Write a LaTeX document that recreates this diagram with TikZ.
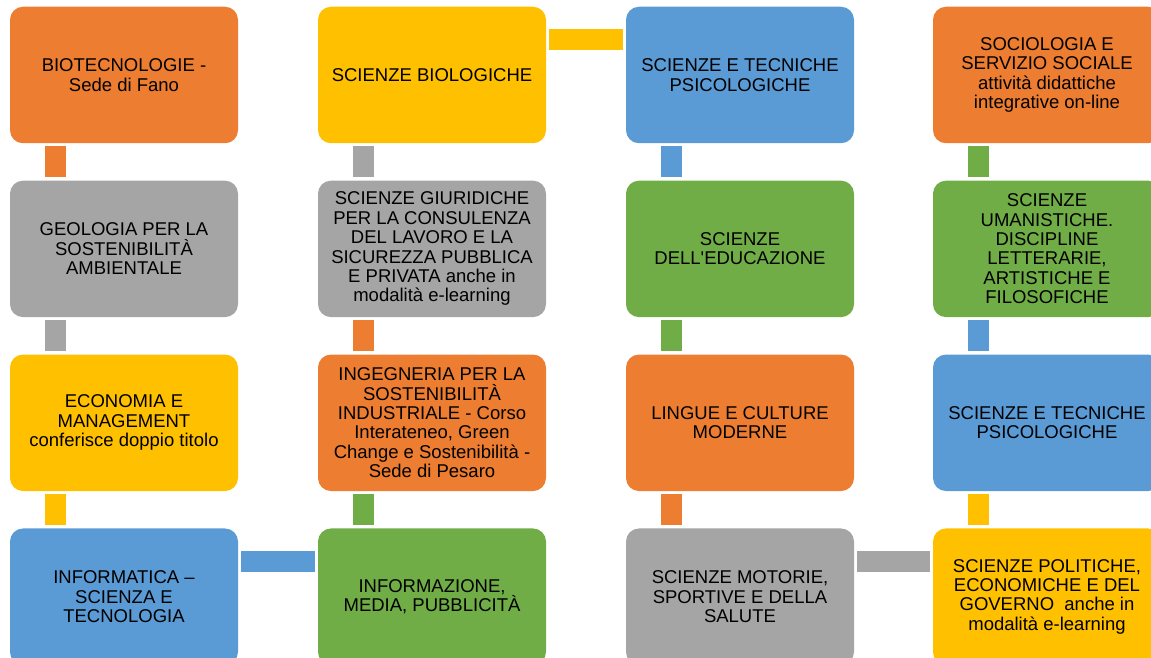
\documentclass[tikz,border=0pt]{standalone}
\usepackage{fontspec}
\setmainfont{Liberation Sans}
\usetikzlibrary{positioning}
\definecolor{corange}{HTML}{ED7D31}
\definecolor{cyellow}{HTML}{FFC000}
\definecolor{cblue}{HTML}{5B9BD5}
\definecolor{cgray}{HTML}{A5A5A5}
\definecolor{cgreen}{HTML}{70AD47}
\begin{document}
\begin{tikzpicture}[x=1pt,y=-1pt,
  box/.style={rounded corners=13pt, minimum width=228pt, minimum height=136.5pt,
    inner sep=0pt, align=center, text=black, font=\fontsize{18.5}{19.4}\selectfont},
  bar/.style={line width=21pt},
  node distance=37pt]
\useasboundingbox (0,0) rectangle (1151,658);
\clip (0,0) rectangle (1151,658);
%first row
\node[box, fill=corange](bio) at (124,75){BIOTECNOLOGIE -\\Sede di Fano};
\node[box, fill=cyellow](biol) at (432,75){SCIENZE BIOLOGICHE};
\node[box, fill=cblue](psia) at (740,75){SCIENZE E TECNICHE\\PSICOLOGICHE};
\node[box, fill=corange](socio) at (1047,75){SOCIOLOGIA E\\SERVIZIO SOCIALE\\attività didattiche\\integrative on-line};
%second row
\node[box, fill=cgray, below=of bio](geo){GEOLOGIA PER LA\\SOSTENIBILITÀ\\AMBIENTALE};
\node[box, fill=cgray, below=of biol](giur){SCIENZE GIURIDICHE\\PER LA CONSULENZA\\DEL LAVORO E LA\\SICUREZZA PUBBLICA\\E PRIVATA anche in\\modalità e-learning};
\node[box, fill=cgreen, below=of psia](edu){SCIENZE\\DELL\textquotesingle EDUCAZIONE};
\node[box, fill=cgreen, below=of socio](uman){SCIENZE\\UMANISTICHE.\\DISCIPLINE\\LETTERARIE,\\ARTISTICHE E\\FILOSOFICHE};
%third row
\node[box, fill=cyellow, below=of geo](eco){ECONOMIA E\\MANAGEMENT\\conferisce doppio titolo};
\node[box, fill=corange, below=of giur](ing){INGEGNERIA PER LA\\SOSTENIBILITÀ\\INDUSTRIALE - Corso\\Interateneo, Green\\Change e Sostenibilità -\\Sede di Pesaro};
\node[box, fill=corange, below=of edu](lingue){LINGUE E CULTURE\\MODERNE};
\node[box, fill=cblue, below=of uman](psib){SCIENZE E TECNICHE\\PSICOLOGICHE};
%fourth row
\node[box, fill=cblue, below=of eco](info){INFORMATICA –\\SCIENZA E\\TECNOLOGIA};
\node[box, fill=cgreen, below=of ing](media){INFORMAZIONE,\\MEDIA, PUBBLICITÀ};
\node[box, fill=cgray, below=of lingue](motorie){SCIENZE MOTORIE,\\SPORTIVE E DELLA\\SALUTE};
\node[box, fill=cyellow, below=of psib](polit){SCIENZE POLITICHE,\\ECONOMICHE E DEL\\GOVERNO~~anche in\\modalità e-learning};
%vertical bars
\draw[bar, corange] ([xshift=-68.5pt,yshift=-3pt]bio.south) -- ([xshift=-68.5pt,yshift=3pt]geo.north);
\draw[bar, cgray] ([xshift=-68.5pt,yshift=-3pt]geo.south) -- ([xshift=-68.5pt,yshift=3pt]eco.north);
\draw[bar, cyellow] ([xshift=-68.5pt,yshift=-3pt]eco.south) -- ([xshift=-68.5pt,yshift=3pt]info.north);
\draw[bar, cgreen] ([xshift=-68.5pt,yshift=3pt]media.north) -- ([xshift=-68.5pt,yshift=-3pt]ing.south);
\draw[bar, corange] ([xshift=-68.5pt,yshift=3pt]ing.north) -- ([xshift=-68.5pt,yshift=-3pt]giur.south);
\draw[bar, cgray] ([xshift=-68.5pt,yshift=3pt]giur.north) -- ([xshift=-68.5pt,yshift=-3pt]biol.south);
\draw[bar, cblue] ([xshift=-68.5pt,yshift=-3pt]psia.south) -- ([xshift=-68.5pt,yshift=3pt]edu.north);
\draw[bar, cgreen] ([xshift=-68.5pt,yshift=-3pt]edu.south) -- ([xshift=-68.5pt,yshift=3pt]lingue.north);
\draw[bar, corange] ([xshift=-68.5pt,yshift=-3pt]lingue.south) -- ([xshift=-68.5pt,yshift=3pt]motorie.north);
\draw[bar, cyellow] ([xshift=-68.5pt,yshift=3pt]polit.north) -- ([xshift=-68.5pt,yshift=-3pt]psib.south);
\draw[bar, cblue] ([xshift=-68.5pt,yshift=3pt]psib.north) -- ([xshift=-68.5pt,yshift=-3pt]uman.south);
\draw[bar, cgreen] ([xshift=-68.5pt,yshift=3pt]uman.north) -- ([xshift=-68.5pt,yshift=-3pt]socio.south);
%horizontal bars
\draw[bar, cyellow] ([xshift=3pt,yshift=35.5pt]biol.east) -- ([xshift=-3pt,yshift=35.5pt]psia.west);
\draw[bar, cblue] ([xshift=3pt,yshift=35.5pt]info.east) -- ([xshift=-3pt,yshift=35.5pt]media.west);
\draw[bar, cgray] ([xshift=3pt,yshift=35.5pt]motorie.east) -- ([xshift=-3pt,yshift=35.5pt]polit.west);
\end{tikzpicture}
\end{document}
